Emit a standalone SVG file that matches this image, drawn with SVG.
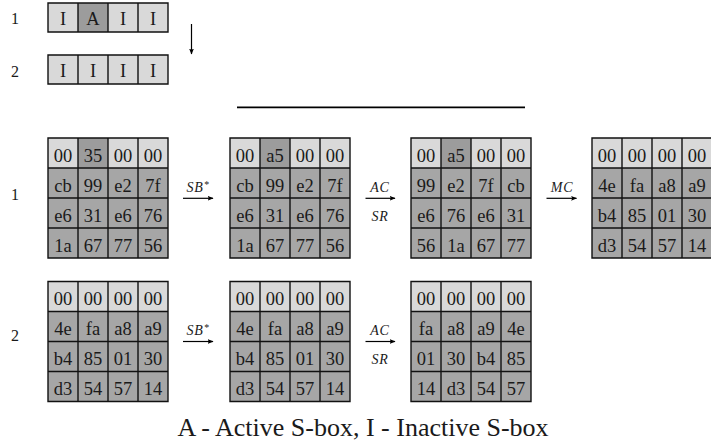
<svg xmlns="http://www.w3.org/2000/svg" width="711" height="445" viewBox="0 0 711 445" font-family="'Liberation Serif', 'DejaVu Serif', serif">
<style>
.c{font-size:18.5px;text-anchor:middle;fill:#1a1a1a}
.lbl{font-size:16px;text-anchor:middle;fill:#1a1a1a}
.op{font-size:14px;font-style:italic;text-anchor:middle;letter-spacing:0.8px;fill:#1a1a1a}
.cap{font-size:26px;text-anchor:middle;fill:#1a1a1a}
.lt{fill:#d9d9d9}
.dk{fill:#a6a6a6}
.ac{fill:#9c9c9c}
.fr{fill:none;stroke:#111;stroke-width:1.4}
.cn{stroke:#000;stroke-width:1.2;fill:none}
</style>
<defs>
<marker id="ah" viewBox="0 0 10 10" refX="9" refY="5" markerWidth="6" markerHeight="6" markerUnits="userSpaceOnUse" orient="auto">
<path d="M0,1 L10,5 L0,9 L2,5 Z" fill="#000"/>
</marker>
<path id="frame" d="M0,0 H120 V120 H0 Z M30,0 V120 M60,0 V120 M90,0 V120 M0,30 H120 M0,60 H120 M0,90 H120"/>
<path id="strip" d="M0,0 H120 V29 H0 Z M30,0 V29 M60,0 V29 M90,0 V29"/>
</defs>

<g id="labels">
<text class="lbl" x="15" y="24">1</text>
<text class="lbl" x="15" y="77">2</text>
<text class="lbl" x="15" y="200">1</text>
<text class="lbl" x="15" y="341">2</text>
</g>

<g id="strip1" transform="translate(48,3)">
<rect class="lt" x="0" y="0" width="120" height="29"/>
<rect class="ac" x="30" y="0" width="30" height="29"/>
<use href="#strip" class="fr"/>
<text class="c" x="15" y="22">I</text><text class="c" x="45" y="22">A</text><text class="c" x="75" y="22">I</text><text class="c" x="105" y="22">I</text>
</g>

<g id="strip2" transform="translate(48,55)">
<rect class="lt" x="0" y="0" width="120" height="29"/>
<use href="#strip" class="fr"/>
<text class="c" x="15" y="22">I</text><text class="c" x="45" y="22">I</text><text class="c" x="75" y="22">I</text><text class="c" x="105" y="22">I</text>
</g>

<g id="g1" transform="translate(48,138)">
<rect class="lt" width="120" height="30"/><rect class="dk" y="30" width="120" height="90"/><rect class="ac" x="30" width="30" height="30"/>
<use href="#frame" class="fr"/>
<text class="c" x="15" y="23.5">00</text><text class="c" x="45" y="23.5">35</text><text class="c" x="75" y="23.5">00</text><text class="c" x="105" y="23.5">00</text>
<text class="c" x="15" y="53.5">cb</text><text class="c" x="45" y="53.5">99</text><text class="c" x="75" y="53.5">e2</text><text class="c" x="105" y="53.5">7f</text>
<text class="c" x="15" y="83.5">e6</text><text class="c" x="45" y="83.5">31</text><text class="c" x="75" y="83.5">e6</text><text class="c" x="105" y="83.5">76</text>
<text class="c" x="15" y="113.5">1a</text><text class="c" x="45" y="113.5">67</text><text class="c" x="75" y="113.5">77</text><text class="c" x="105" y="113.5">56</text>
</g>

<g id="g2" transform="translate(230,138)">
<rect class="lt" width="120" height="30"/><rect class="dk" y="30" width="120" height="90"/><rect class="ac" x="30" width="30" height="30"/>
<use href="#frame" class="fr"/>
<text class="c" x="15" y="23.5">00</text><text class="c" x="45" y="23.5">a5</text><text class="c" x="75" y="23.5">00</text><text class="c" x="105" y="23.5">00</text>
<text class="c" x="15" y="53.5">cb</text><text class="c" x="45" y="53.5">99</text><text class="c" x="75" y="53.5">e2</text><text class="c" x="105" y="53.5">7f</text>
<text class="c" x="15" y="83.5">e6</text><text class="c" x="45" y="83.5">31</text><text class="c" x="75" y="83.5">e6</text><text class="c" x="105" y="83.5">76</text>
<text class="c" x="15" y="113.5">1a</text><text class="c" x="45" y="113.5">67</text><text class="c" x="75" y="113.5">77</text><text class="c" x="105" y="113.5">56</text>
</g>

<g id="g3" transform="translate(411,138)">
<rect class="lt" width="120" height="30"/><rect class="dk" y="30" width="120" height="90"/><rect class="ac" x="30" width="30" height="30"/>
<use href="#frame" class="fr"/>
<text class="c" x="15" y="23.5">00</text><text class="c" x="45" y="23.5">a5</text><text class="c" x="75" y="23.5">00</text><text class="c" x="105" y="23.5">00</text>
<text class="c" x="15" y="53.5">99</text><text class="c" x="45" y="53.5">e2</text><text class="c" x="75" y="53.5">7f</text><text class="c" x="105" y="53.5">cb</text>
<text class="c" x="15" y="83.5">e6</text><text class="c" x="45" y="83.5">76</text><text class="c" x="75" y="83.5">e6</text><text class="c" x="105" y="83.5">31</text>
<text class="c" x="15" y="113.5">56</text><text class="c" x="45" y="113.5">1a</text><text class="c" x="75" y="113.5">67</text><text class="c" x="105" y="113.5">77</text>
</g>

<g id="g4" transform="translate(592,138)">
<rect class="lt" width="120" height="30"/><rect class="dk" y="30" width="120" height="90"/>
<use href="#frame" class="fr"/>
<text class="c" x="15" y="23.5">00</text><text class="c" x="45" y="23.5">00</text><text class="c" x="75" y="23.5">00</text><text class="c" x="105" y="23.5">00</text>
<text class="c" x="15" y="53.5">4e</text><text class="c" x="45" y="53.5">fa</text><text class="c" x="75" y="53.5">a8</text><text class="c" x="105" y="53.5">a9</text>
<text class="c" x="15" y="83.5">b4</text><text class="c" x="45" y="83.5">85</text><text class="c" x="75" y="83.5">01</text><text class="c" x="105" y="83.5">30</text>
<text class="c" x="15" y="113.5">d3</text><text class="c" x="45" y="113.5">54</text><text class="c" x="75" y="113.5">57</text><text class="c" x="105" y="113.5">14</text>
</g>

<g id="g5" transform="translate(48,281.5)">
<rect class="lt" width="120" height="30"/><rect class="dk" y="30" width="120" height="90"/>
<use href="#frame" class="fr"/>
<text class="c" x="15" y="23.5">00</text><text class="c" x="45" y="23.5">00</text><text class="c" x="75" y="23.5">00</text><text class="c" x="105" y="23.5">00</text>
<text class="c" x="15" y="53.5">4e</text><text class="c" x="45" y="53.5">fa</text><text class="c" x="75" y="53.5">a8</text><text class="c" x="105" y="53.5">a9</text>
<text class="c" x="15" y="83.5">b4</text><text class="c" x="45" y="83.5">85</text><text class="c" x="75" y="83.5">01</text><text class="c" x="105" y="83.5">30</text>
<text class="c" x="15" y="113.5">d3</text><text class="c" x="45" y="113.5">54</text><text class="c" x="75" y="113.5">57</text><text class="c" x="105" y="113.5">14</text>
</g>

<g id="g6" transform="translate(230,281.5)">
<rect class="lt" width="120" height="30"/><rect class="dk" y="30" width="120" height="90"/>
<use href="#frame" class="fr"/>
<text class="c" x="15" y="23.5">00</text><text class="c" x="45" y="23.5">00</text><text class="c" x="75" y="23.5">00</text><text class="c" x="105" y="23.5">00</text>
<text class="c" x="15" y="53.5">4e</text><text class="c" x="45" y="53.5">fa</text><text class="c" x="75" y="53.5">a8</text><text class="c" x="105" y="53.5">a9</text>
<text class="c" x="15" y="83.5">b4</text><text class="c" x="45" y="83.5">85</text><text class="c" x="75" y="83.5">01</text><text class="c" x="105" y="83.5">30</text>
<text class="c" x="15" y="113.5">d3</text><text class="c" x="45" y="113.5">54</text><text class="c" x="75" y="113.5">57</text><text class="c" x="105" y="113.5">14</text>
</g>

<g id="g7" transform="translate(411,281.5)">
<rect class="lt" width="120" height="30"/><rect class="dk" y="30" width="120" height="90"/>
<use href="#frame" class="fr"/>
<text class="c" x="15" y="23.5">00</text><text class="c" x="45" y="23.5">00</text><text class="c" x="75" y="23.5">00</text><text class="c" x="105" y="23.5">00</text>
<text class="c" x="15" y="53.5">fa</text><text class="c" x="45" y="53.5">a8</text><text class="c" x="75" y="53.5">a9</text><text class="c" x="105" y="53.5">4e</text>
<text class="c" x="15" y="83.5">01</text><text class="c" x="45" y="83.5">30</text><text class="c" x="75" y="83.5">b4</text><text class="c" x="105" y="83.5">85</text>
<text class="c" x="15" y="113.5">14</text><text class="c" x="45" y="113.5">d3</text><text class="c" x="75" y="113.5">54</text><text class="c" x="105" y="113.5">57</text>
</g>

<g id="connectors">
<line class="cn" x1="191.5" y1="24" x2="191.5" y2="54" marker-end="url(#ah)"/>
<line x1="237" y1="107.3" x2="525" y2="107.3" stroke="#000" stroke-width="1.8"/>
<line class="cn" x1="183" y1="198.3" x2="213" y2="198.3" marker-end="url(#ah)"/>
<line class="cn" x1="365.5" y1="198.3" x2="395" y2="198.3" marker-end="url(#ah)"/>
<line class="cn" x1="546.5" y1="198.3" x2="576.5" y2="198.3" marker-end="url(#ah)"/>
<line class="cn" x1="183" y1="341.5" x2="213" y2="341.5" marker-end="url(#ah)"/>
<line class="cn" x1="365.5" y1="341.5" x2="395" y2="341.5" marker-end="url(#ah)"/>
<text class="op" x="198" y="191.5">SB<tspan font-size="10" dy="-4">*</tspan></text>
<text class="op" x="380" y="191.5">AC</text>
<text class="op" x="380" y="221">SR</text>
<text class="op" x="562" y="191.5" letter-spacing="1.5px">MC</text>
<text class="op" x="198" y="335">SB<tspan font-size="10" dy="-4">*</tspan></text>
<text class="op" x="380" y="335">AC</text>
<text class="op" x="380" y="364">SR</text>
</g>

<text class="cap" x="363" y="436">A - Active S-box, I - Inactive S-box</text>
</svg>
